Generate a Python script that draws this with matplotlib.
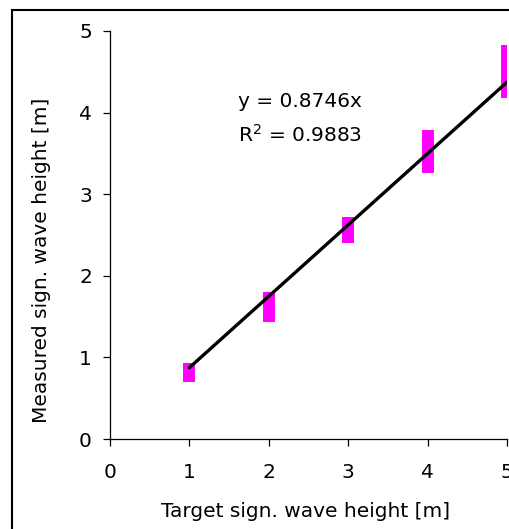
import matplotlib.pyplot as plt
from matplotlib.patches import Rectangle

plt.rcParams['font.family'] = ['DejaVu Sans']
plt.rcParams['mathtext.fontset'] = 'dejavusans'

# --- data: spread of measured values per target ---
target = [1, 2, 3, 4, 5]
meas_low = [0.70, 1.43, 2.40, 3.26, 4.18]
meas_high = [0.93, 1.80, 2.72, 3.79, 4.83]
slope = 0.8746
r2 = 0.9883

FS = 14.5

fig = plt.figure(figsize=(5.10, 5.29), dpi=100)
ax = fig.add_axes([0.2157, 0.1701, 0.7784, 0.7713])

# magenta range bars
ax.vlines(target, meas_low, meas_high, colors='#ff00ff', lw=8.6,
          capstyle='butt', zorder=2)

# trend line through origin
fit_x = [target[0], target[-1]]
fit_y = [slope * v for v in fit_x]
ax.plot(fit_x, fit_y, color='black', lw=2.4, zorder=3, solid_capstyle='round')

ax.text(1.61, 4.07, f"y = {slope}x", fontsize=FS, va='baseline')
ax.text(1.61, 3.64, f"R$^2$ = {r2}", fontsize=FS, va='baseline')

ax.set_xlim(0, 5)
ax.set_ylim(0, 5)
ax.set_xticks(range(6))
ax.set_yticks(range(6))
for s in ['top', 'right']:
    ax.spines[s].set_visible(False)
for s in ['left', 'bottom']:
    ax.spines[s].set_linewidth(0.9)
ax.tick_params(axis='both', direction='out', length=5, width=0.9, labelsize=FS)
ax.tick_params(axis='x', pad=12)
ax.tick_params(axis='y', pad=8)
ax.patch.set_visible(False)

fig.text(306 / 510, 12 / 529, "Target sign. wave height [m]", fontsize=FS,
         ha='center', va='baseline')
fig.text(42 / 510, 1 - 260 / 529, "Measured sign. wave height [m]", fontsize=FS,
         ha='center', va='center', rotation=90)

# outer chart frame
fig.patches.append(Rectangle((12 / 510, -0.1), 1.2, 1 - 10 / 529 + 0.1,
                             transform=fig.transFigure, fill=False,
                             edgecolor='black', lw=1.5))

fig.savefig('out.png', dpi=100)
